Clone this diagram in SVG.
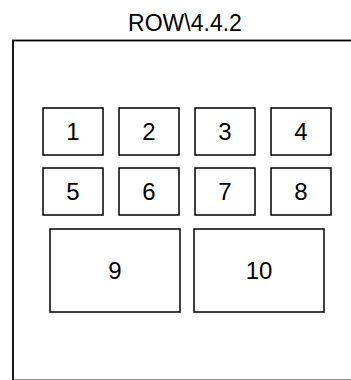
<svg xmlns="http://www.w3.org/2000/svg" width="351" height="380" viewBox="0 0 351 380">
<style>
.box{fill:#fff;stroke:#000;stroke-width:1.5}
.lbl{font-family:"Liberation Sans",Arial,sans-serif;font-size:24px;fill:#000;text-anchor:middle}
.title{font-family:"Liberation Sans",Arial,sans-serif;font-size:23px;fill:#000;text-anchor:middle}
</style>
<rect width="351" height="380" fill="#fff"/>
<g id="container">
<rect x="13" y="40.5" width="344" height="340" fill="#fff" stroke="#000" stroke-width="1.8"/>
<text class="title" x="185" y="31">ROW\4.4.2</text>
</g>
<g id="connectors"/>
<g id="n1"><rect class="box" x="43" y="108" width="60" height="47"/><text class="lbl" x="73" y="140">1</text></g>
<g id="n2"><rect class="box" x="119" y="108" width="60" height="47"/><text class="lbl" x="149" y="140">2</text></g>
<g id="n3"><rect class="box" x="195" y="108" width="60" height="47"/><text class="lbl" x="225" y="140">3</text></g>
<g id="n4"><rect class="box" x="271" y="108" width="60" height="47"/><text class="lbl" x="301" y="140">4</text></g>
<g id="n5"><rect class="box" x="43" y="168" width="60" height="47"/><text class="lbl" x="73" y="200">5</text></g>
<g id="n6"><rect class="box" x="119" y="168" width="60" height="47"/><text class="lbl" x="149" y="200">6</text></g>
<g id="n7"><rect class="box" x="195" y="168" width="60" height="47"/><text class="lbl" x="225" y="200">7</text></g>
<g id="n8"><rect class="box" x="271" y="168" width="60" height="47"/><text class="lbl" x="301" y="200">8</text></g>
<g id="n9"><rect class="box" x="50" y="229" width="130" height="83"/><text class="lbl" x="115" y="279">9</text></g>
<g id="n10"><rect class="box" x="194" y="229" width="130" height="83"/><text class="lbl" x="259" y="279">10</text></g>
</svg>
